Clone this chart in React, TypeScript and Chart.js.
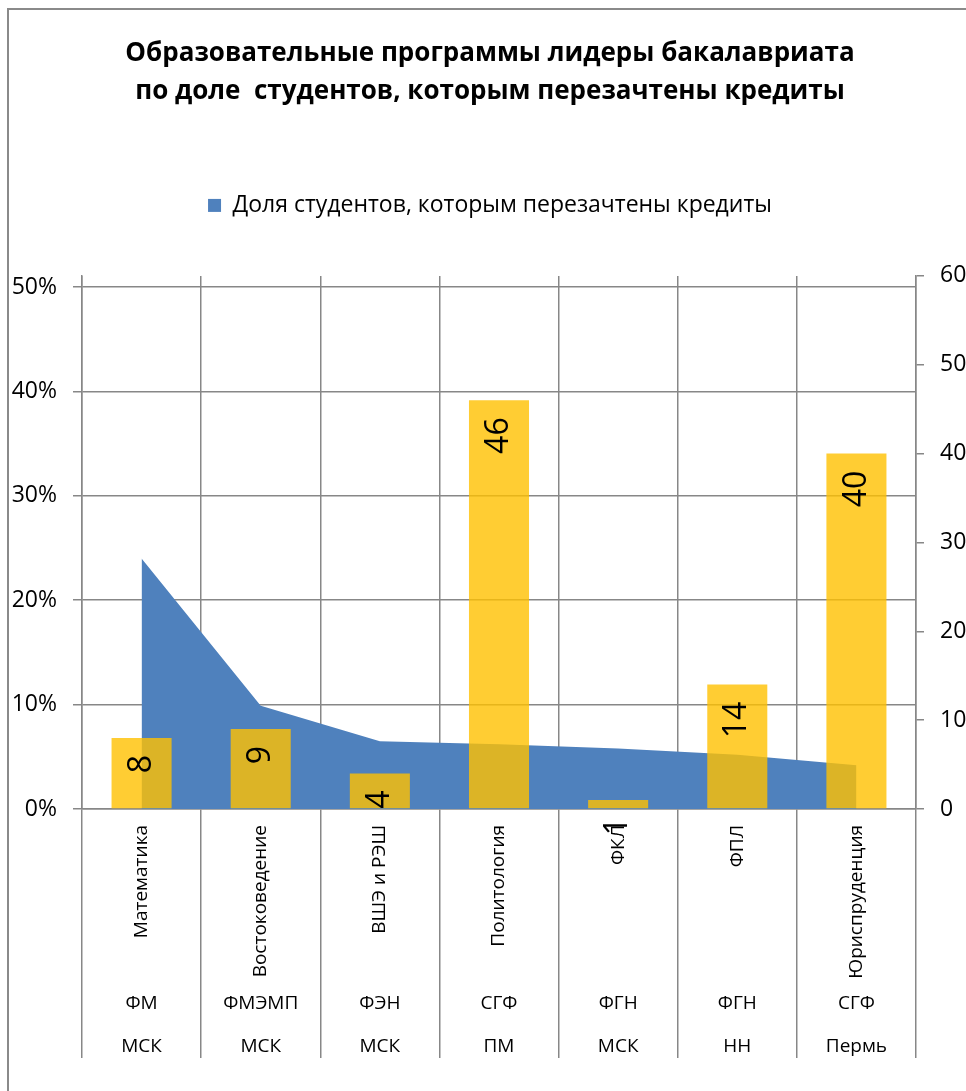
import React, { useEffect, useRef } from "react";
import { Chart, registerables } from "chart.js";

Chart.register(...registerables);

const titleLines = [
  "Образовательные программы лидеры бакалавриата",
  "по доле  студентов, которым перезачтены кредиты",
];
const seriesName = "Доля студентов, которым перезачтены кредиты";
const programs = ["Математика", "Востоковедение", "ВШЭ и РЭШ", "Политология", "ФКЛ", "ФПЛ", "Юриспруденция"];
const faculties = ["ФМ", "ФМЭМП", "ФЭН", "СГФ", "ФГН", "ФГН", "СГФ"];
const cities = ["МСК", "МСК", "МСК", "ПМ", "МСК", "НН", "Пермь"];
const shareValues = [0.24, 0.099, 0.065, 0.062, 0.058, 0.052, 0.042];
const studentCounts = [8, 9, 4, 46, 1, 14, 40];
const leftTicks = [0, 0.1, 0.2, 0.3, 0.4, 0.5];
const rightTicks = [0, 10, 20, 30, 40, 50, 60];

const FONT = '"Open Sans", "Noto Sans", "DejaVu Sans", sans-serif';
const GRID = "#878787";

const CW = 960;
const CH = 1081;

export default function App() {
  const ref = useRef<HTMLCanvasElement | null>(null);

  useEffect(() => {
    const canvas = ref.current;
    if (!canvas) return;

    const legendSpacer = {
      id: "legendSpacer",
      beforeLayout(chart: any) {
        const lg = chart.legend;
        if (lg && !lg.__patched) {
          const orig = lg.fit;
          lg.fit = function () {
            orig.call(this);
            this.height += 49;
          };
          lg.__patched = true;
        }
      },
    };

    const barLabels = {
      id: "barLabels",
      afterDatasetsDraw(chart: any) {
        const ctx = chart.ctx;
        const meta = chart.getDatasetMeta(1);
        ctx.save();
        ctx.font = `32px ${FONT}`;
        ctx.fillStyle = "#000";
        ctx.textAlign = "right";
        ctx.textBaseline = "middle";
        meta.data.forEach((el: any, i: number) => {
          ctx.save();
          ctx.translate(el.x, el.y + 17);
          ctx.rotate(-Math.PI / 2);
          ctx.fillText(String(studentCounts[i]), 0, 0);
          ctx.restore();
        });
        ctx.restore();
      },
    };

    const categoryLabels = {
      id: "categoryLabels",
      afterDraw(chart: any) {
        const ctx = chart.ctx;
        const xs = chart.scales.x;
        const bottom = chart.chartArea.bottom;
        ctx.save();
        ctx.fillStyle = "#000";
        ctx.font = `19px ${FONT}`;
        programs.forEach((p, i) => {
          const x = xs.getPixelForValue(i);
          ctx.save();
          ctx.translate(x, bottom + 16);
          ctx.rotate(-Math.PI / 2);
          ctx.textAlign = "right";
          ctx.textBaseline = "middle";
          ctx.fillText(p, 0, 0);
          ctx.restore();
          ctx.textAlign = "center";
          ctx.textBaseline = "middle";
          ctx.fillText(faculties[i], x, bottom + 195);
          ctx.fillText(cities[i], x, bottom + 238);
        });
        ctx.restore();
      },
    };

    const chart = new Chart(canvas, {
      type: "bar",
      data: {
        labels: programs,
        datasets: [
          {
            type: "line",
            label: seriesName,
            data: shareValues,
            yAxisID: "y",
            backgroundColor: "#4F81BD",
            borderColor: "rgba(0,0,0,0)",
            borderWidth: 0,
            fill: "origin",
            pointRadius: 0,
            tension: 0,
            order: 2,
          } as any,
          {
            type: "bar",
            label: "Число студентов",
            data: studentCounts,
            yAxisID: "y1",
            backgroundColor: "rgba(255,192,0,0.8)",
            borderWidth: 0,
            barPercentage: 0.504,
            categoryPercentage: 1,
            order: 1,
          } as any,
        ],
      },
      options: {
        responsive: false,
        animation: false,
        maintainAspectRatio: false,
        layout: { padding: 0 },
        plugins: {
          tooltip: { enabled: false },
          title: {
            display: true,
            text: titleLines,
            color: "#000",
            font: { family: FONT, size: 26, weight: "bold", lineHeight: 1.46 },
            padding: { top: 25, bottom: 73 },
          },
          legend: {
            display: true,
            position: "top",
            labels: {
              color: "#000",
              font: { family: FONT, size: 23 },
              boxWidth: 13,
              boxHeight: 13,
              padding: 10,
              filter: (item: any) => item.datasetIndex === 0,
            },
          },
        },
        scales: {
          x: {
            type: "category",
            offset: true,
            grid: { offset: true, color: GRID, lineWidth: 1.5, tickLength: 249, drawTicks: true },
            border: { display: true, color: GRID, width: 1.5 },
            ticks: { display: false },
            afterFit: (s: any) => {
              s.height = 282;
            },
          },
          y: {
            position: "left",
            min: 0,
            max: 0.5106,
            afterBuildTicks: (s: any) => {
              s.ticks = leftTicks.map((v) => ({ value: v }));
            },
            ticks: {
              color: "#000",
              font: { family: FONT, size: 23 },
              padding: 16,
              callback: (v: any) => Math.round(Number(v) * 100) + "%",
            },
            grid: { color: GRID, lineWidth: 1.5, tickLength: 9 },
            border: { color: GRID, width: 1.5 },
            afterFit: (s: any) => {
              s.width = 72;
            },
          },
          y1: {
            position: "right",
            min: 0,
            max: 60,
            afterBuildTicks: (s: any) => {
              s.ticks = rightTicks.map((v) => ({ value: v }));
            },
            ticks: {
              color: "#000",
              font: { family: FONT, size: 23 },
              padding: 16,
            },
            grid: { drawOnChartArea: false, color: GRID, lineWidth: 1.5, tickLength: 8 },
            border: { color: GRID, width: 1.5 },
            afterFit: (s: any) => {
              s.width = 54;
            },
          },
        },
      } as any,
      plugins: [legendSpacer, barLabels, categoryLabels],
    });

    return () => chart.destroy();
  }, []);

  return (
    <div
      style={{
        position: "fixed",
        left: 7,
        top: 8,
        width: 959,
        height: 1083,
        overflow: "hidden",
        background: "#fff",
      }}
    >
      <div
        style={{
          position: "absolute",
          left: 0,
          top: 0,
          width: 966,
          height: 1100,
          border: "2px solid #8a8a8a",
          boxSizing: "border-box",
        }}
      >
        <canvas
          ref={ref}
          width={CW}
          height={CH}
          style={{ position: "absolute", left: 1, top: 0, width: CW, height: CH, display: "block" }}
        />
      </div>
    </div>
  );
}
